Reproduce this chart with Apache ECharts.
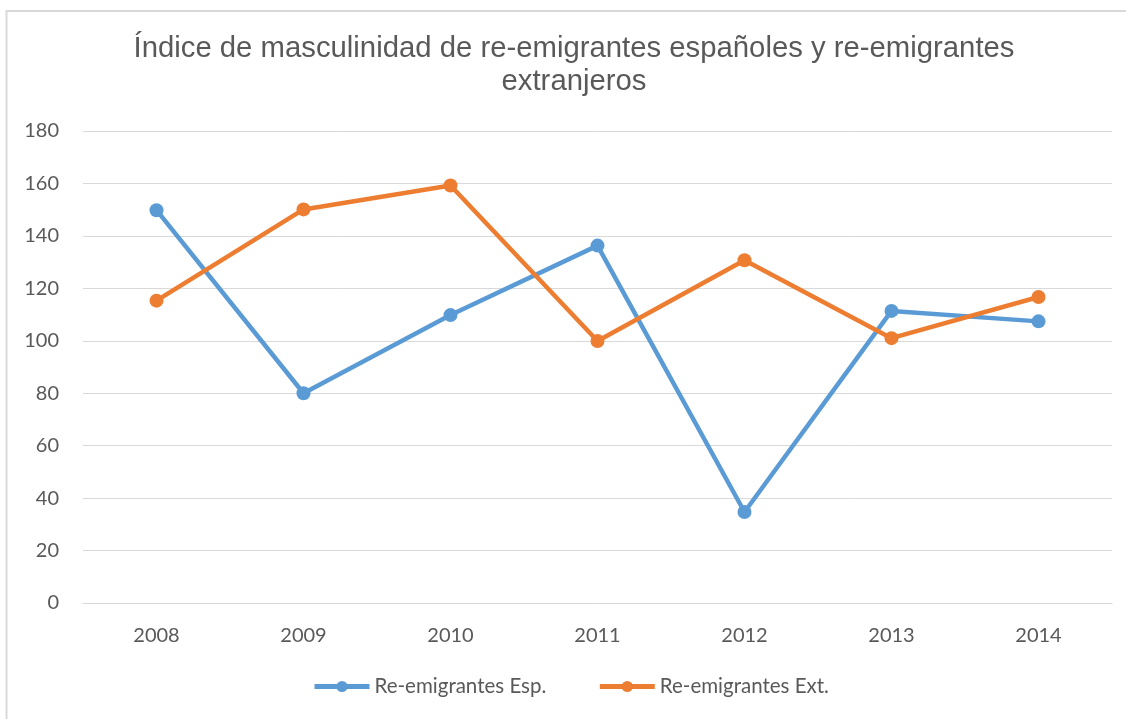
<!DOCTYPE html>
<html>
<head>
<meta charset="utf-8">
<script src="https://cdn.jsdelivr.net/npm/echarts@6/dist/echarts.min.js"></script>
<style>html,body{margin:0;padding:0;background:#fff}#c{width:1126px;height:719px}</style>
</head>
<body>
<div id="c"></div>
<script>
const titleText = 'Índice de masculinidad de re-emigrantes españoles y re-emigrantes\nextranjeros';
const years = ['2008', '2009', '2010', '2011', '2012', '2013', '2014'];
const espName = 'Re-emigrantes Esp.';
const extName = 'Re-emigrantes Ext.';
const espValues = [149.8, 80, 109.8, 136.3, 34.7, 111.4, 107.4];
const extValues = [115.3, 150.1, 159.2, 99.9, 130.7, 101, 116.7];

const chart = echarts.init(document.getElementById('c'));
const txt = '#595959';
chart.setOption({
  backgroundColor: '#fff',
  animation: false,
  graphic: [{
    type: 'rect', shape: { x: 6.5, y: 11, width: 1130, height: 720 },
    style: { fill: 'none', stroke: '#D9D9D9', lineWidth: 2 }, silent: true
  }],
  title: {
    text: titleText, left: 569, textAlign: 'center', top: 27, padding: 5,
    textStyle: { fontFamily: 'Liberation Sans', fontWeight: 'normal', fontSize: 29.3, color: txt, lineHeight: 33 }
  },
  grid: { left: 83, right: 14, top: 131, bottom: 116, containLabel: false },
  xAxis: {
    type: 'category', data: years, boundaryGap: true,
    axisLine: { show: true, lineStyle: { color: '#D9D9D9' } },
    axisTick: { show: false },
    axisLabel: { color: txt, fontFamily: 'Lato', fontSize: 20, margin: 23 }
  },
  yAxis: {
    type: 'value', min: 0, max: 180, interval: 20,
    axisLine: { show: false }, axisTick: { show: false },
    axisLabel: { color: txt, fontFamily: 'Lato', fontSize: 20, margin: 24 },
    splitLine: { lineStyle: { color: '#D9D9D9', width: 1 } }
  },
  legend: {
    top: 676, left: 312, padding: 0, itemWidth: 55, itemHeight: 14, itemGap: 51,
    lineStyle: { width: 5 },
    textStyle: { color: txt, fontFamily: 'Lato', fontSize: 20.5, padding: [0, 0, 0, 0] },
    data: [espName, extName]
  },
  series: [
    { name: espName, type: 'line', data: espValues, symbol: 'circle', symbolSize: 14,
      lineStyle: { width: 4.5, color: '#5B9BD5' }, itemStyle: { color: '#5B9BD5' }, z: 2 },
    { name: extName, type: 'line', data: extValues, symbol: 'circle', symbolSize: 14,
      lineStyle: { width: 4.5, color: '#ED7D31' }, itemStyle: { color: '#ED7D31' }, z: 3 }
  ]
});
</script>
</body>
</html>
